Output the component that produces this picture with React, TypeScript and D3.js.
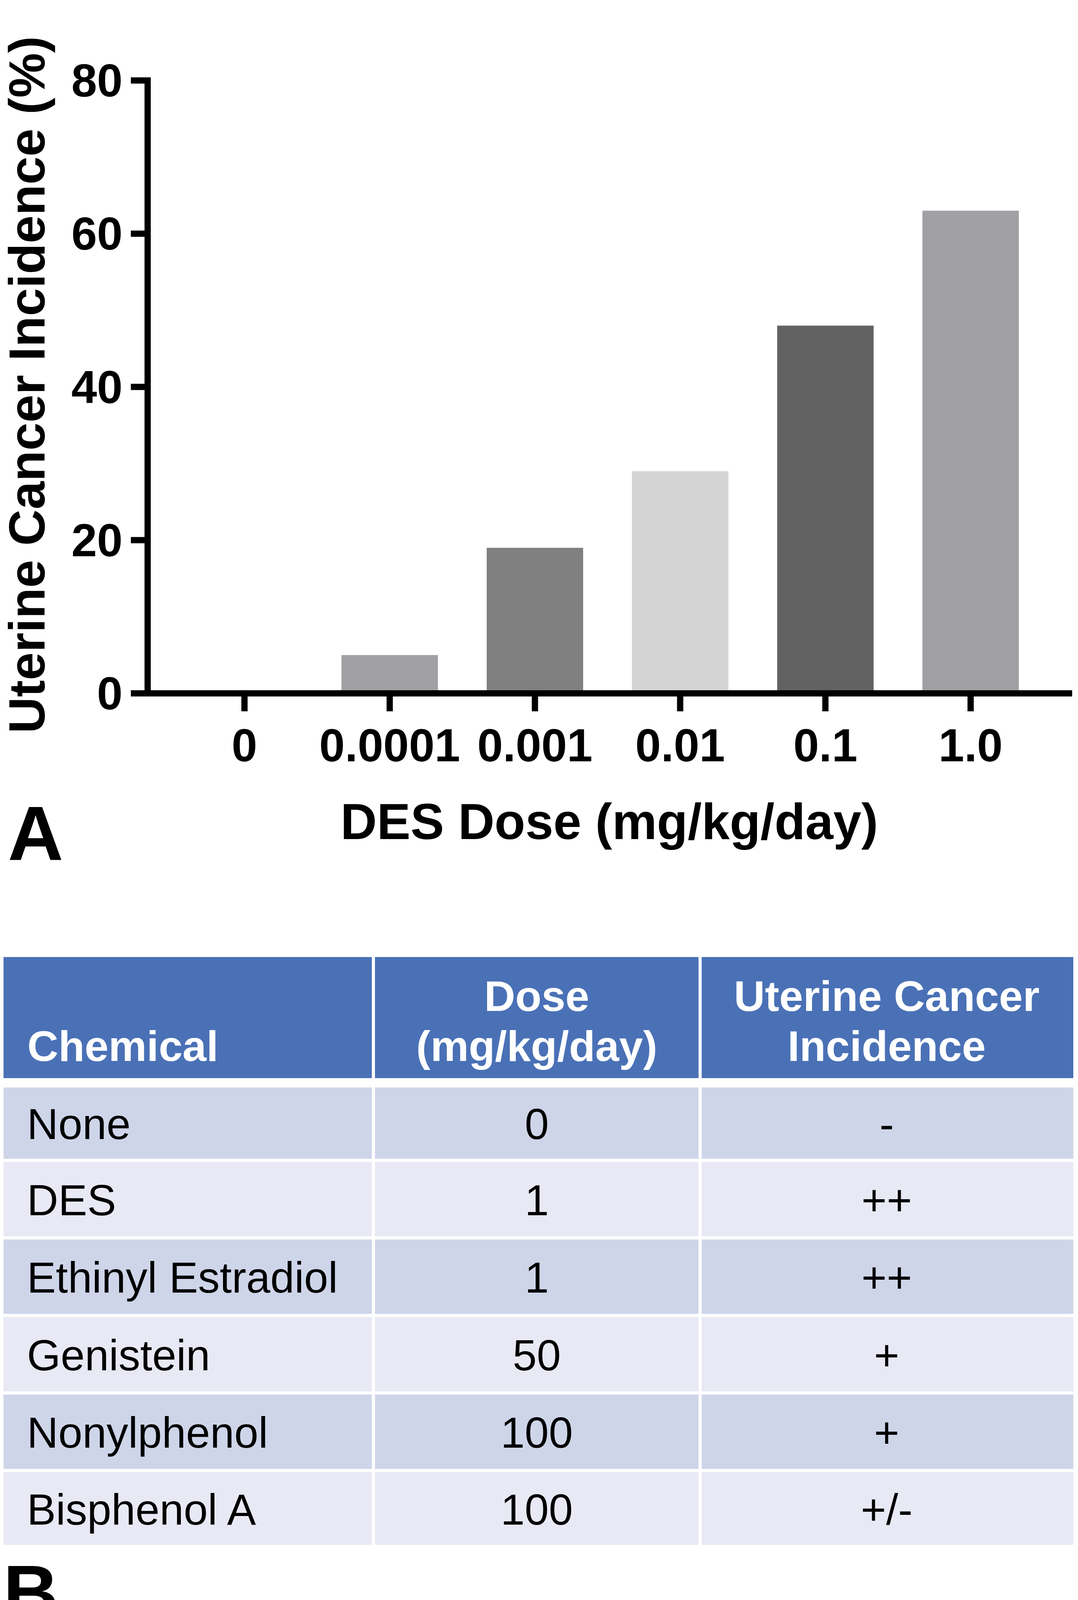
import React, { useEffect } from "react";
import * as d3 from "d3";

// ---------- Data ----------
const doseCategories = ["0", "0.0001", "0.001", "0.01", "0.1", "1.0"];
const incidence = [0, 5, 19, 29, 48, 63];
const yTicks = [0, 20, 40, 60, 80];

const tableHeaders = [["Chemical"], ["Dose", "(mg/kg/day)"], ["Uterine Cancer", "Incidence"]];
const chemicals = ["None", "DES", "Ethinyl Estradiol", "Genistein", "Nonylphenol", "Bisphenol A"];
const doses = ["0", "1", "1", "50", "100", "100"];
const cancerIncidence = ["-", "++", "++", "+", "+", "+/-"];

// ---------- Styles ----------
const W = 2760;
const H = 4184;
const FONT = "'Liberation Sans', Arial, Helvetica, sans-serif";
const barColors = ["#a1a0a5", "#a1a0a5", "#808080", "#d4d4d4", "#626262", "#a1a0a5"];
const headerColor = "#4a71b6";
const rowColors = ["#cfd5e9", "#e8e9f4"];

export default function App() {
  useEffect(() => {
    document.body.style.margin = "0";
    document.body.style.background = "#ffffff";
  }, []);

  const y = d3.scaleLinear().domain([0, 80]).range([1775, 206]);
  const x = d3
    .scaleBand<string>()
    .domain(doseCategories)
    .range([440, 2671])
    .paddingInner(0.336)
    .paddingOuter(0.168);

  const axisX = 378;
  const axisLeft = 335;
  const axisRight = 2745;
  const sw = 16;

  // table geometry
  const colEdges = [9, 956, 1792.5, 2748];
  const headerTop = 2450;
  const headerBottom = 2760;
  const rowStart = 2772;
  const rowPitch = 198.5;
  const gap = 4;

  const cellX = (c: number) => colEdges[c] + (c > 0 ? gap : 0);
  const cellW = (c: number) => colEdges[c + 1] - (c < 2 ? gap : 0) - cellX(c);
  const colCenter = (c: number) => (colEdges[c] + colEdges[c + 1]) / 2;

  return (
    <svg
      width={W}
      height={H}
      viewBox={`0 0 ${W} ${H}`}
      style={{ display: "block", background: "#fff" }}
      fontFamily={FONT}
    >
      <rect x={0} y={0} width={W} height={H} fill="#fff" />

      {/* ---------- Panel A: bar chart ---------- */}
      {doseCategories.map((d, i) => (
        <rect
          key={d}
          x={x(d)}
          y={y(incidence[i])}
          width={x.bandwidth()}
          height={y(0) - y(incidence[i])}
          fill={barColors[i]}
        />
      ))}

      {/* y axis */}
      <line
        x1={axisX}
        x2={axisX}
        y1={y(80)}
        y2={y(0)}
        stroke="#000"
        strokeWidth={sw}
        strokeLinecap="square"
      />
      {yTicks.map((t) => (
        <g key={t}>
          <line x1={axisLeft} x2={axisX} y1={y(t)} y2={y(t)} stroke="#000" strokeWidth={sw} />
          <text
            x={314}
            y={y(t) + 41}
            textAnchor="end"
            fontSize={118}
            fontWeight="bold"
            fill="#000"
          >
            {t}
          </text>
        </g>
      ))}

      {/* x axis */}
      <line x1={axisLeft} x2={axisRight} y1={y(0)} y2={y(0)} stroke="#000" strokeWidth={sw} />
      {doseCategories.map((d) => {
        const cx = (x(d) as number) + x.bandwidth() / 2;
        return (
          <g key={d}>
            <line x1={cx} x2={cx} y1={y(0)} y2={1821} stroke="#000" strokeWidth={sw} />
            <text x={cx} y={1949} textAnchor="middle" fontSize={118} fontWeight="bold" fill="#000">
              {d}
            </text>
          </g>
        );
      })}

      {/* axis titles */}
      <text
        transform={`translate(114, 985) rotate(-90)`}
        textAnchor="middle"
        fontSize={129}
        fontWeight="bold"
        fill="#000"
      >
        Uterine Cancer Incidence (%)
      </text>
      <text x={1560} y={2148} textAnchor="middle" fontSize={129} fontWeight="bold" fill="#000">
        DES Dose (mg/kg/day)
      </text>

      <text x={20} y={2202} fontSize={197} fontWeight="bold" fill="#000">
        A
      </text>

      {/* ---------- Panel B: table ---------- */}
      {tableHeaders.map((lines, c) => (
        <g key={"h" + c}>
          <rect
            x={cellX(c)}
            y={headerTop}
            width={cellW(c)}
            height={headerBottom - headerTop}
            fill={headerColor}
          />
          {lines.map((ln, j) => (
            <text
              key={j}
              x={c === 0 ? 70 : colCenter(c)}
              y={2716 - (lines.length - 1 - j) * 128}
              textAnchor={c === 0 ? "start" : "middle"}
              fontSize={110}
              fontWeight="bold"
              fill="#fff"
            >
              {ln}
            </text>
          ))}
        </g>
      ))}

      {chemicals.map((chem, i) => {
        const top = i === 0 ? 2784 : rowStart + i * rowPitch + gap;
        const bottom =
          i === chemicals.length - 1 ? rowStart + (i + 1) * rowPitch - 8 : rowStart + (i + 1) * rowPitch - gap;
        const mid = (top + bottom) / 2;
        const values = [chem, doses[i], cancerIncidence[i]];
        return (
          <g key={chem}>
            {values.map((v, c) => (
              <g key={c}>
                <rect
                  x={cellX(c)}
                  y={top}
                  width={cellW(c)}
                  height={bottom - top}
                  fill={rowColors[i % 2]}
                />
                <text
                  x={c === 0 ? 69 : colCenter(c)}
                  y={mid + 41}
                  textAnchor={c === 0 ? "start" : "middle"}
                  fontSize={111}
                  fill="#000"
                >
                  {v}
                </text>
              </g>
            ))}
          </g>
        );
      })}

      <text x={8} y={4145} fontSize={197} fontWeight="bold" fill="#000">
        B
      </text>
    </svg>
  );
}
